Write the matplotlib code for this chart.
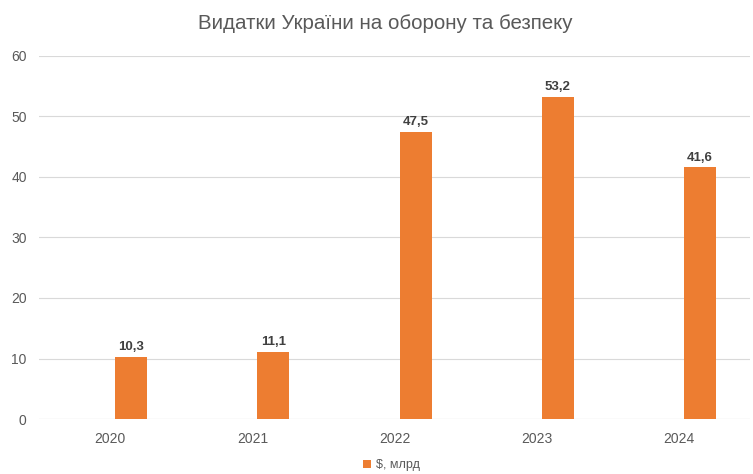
import matplotlib
matplotlib.use('agg')
import matplotlib.pyplot as plt

years = ['2020', '2021', '2022', '2023', '2024']
spending = [10.3, 11.1, 47.5, 53.2, 41.6]
labels = ['10,3', '11,1', '47,5', '53,2', '41,6']

plt.rcParams['font.family'] = ['Liberation Sans', 'DejaVu Sans']

fig = plt.figure(figsize=(7.53, 4.74), dpi=100)
ax = fig.add_axes([0.052, 0.116, 0.944, 0.766])

x = list(range(len(years)))
# bars sit right of the category centre (Excel leaves room for an empty second series)
bar_x = [i + 0.148 for i in x]
bars = ax.bar(bar_x, spending, width=0.225, color='#ED7D31', zorder=3, label='$, млрд')
for b, lab in zip(bars, labels):
    ax.text(b.get_x() + b.get_width() / 2, b.get_height() + 0.6, lab,
            ha='center', va='bottom', fontsize=9.5, fontweight='bold', color='#404040')

ax.set_ylim(0, 60)
ax.set_yticks(range(0, 61, 10))
ax.set_xlim(-0.5, 4.5)
ax.set_xticks(x)
ax.set_xticklabels(years)
ax.yaxis.grid(True, color='#D9D9D9', linewidth=0.8, zorder=0)
for s in ax.spines.values():
    s.set_visible(False)
ax.axhline(0, color='#D9D9D9', linewidth=0.8, zorder=1)
ax.tick_params(length=0, labelsize=10, colors='#595959', pad=9)
ax.tick_params(axis='y', pad=9)

fig.suptitle('Видатки України на оборону та безпеку', x=0.511, y=0.97, fontsize=14.8, color='#595959')
fig.legend(loc='lower center', bbox_to_anchor=(0.52, -0.018), frameon=False, fontsize=9,
           handlelength=0.7, handleheight=0.7, handletextpad=0.4, labelcolor='#595959')

fig.savefig('out.png', dpi=100)
